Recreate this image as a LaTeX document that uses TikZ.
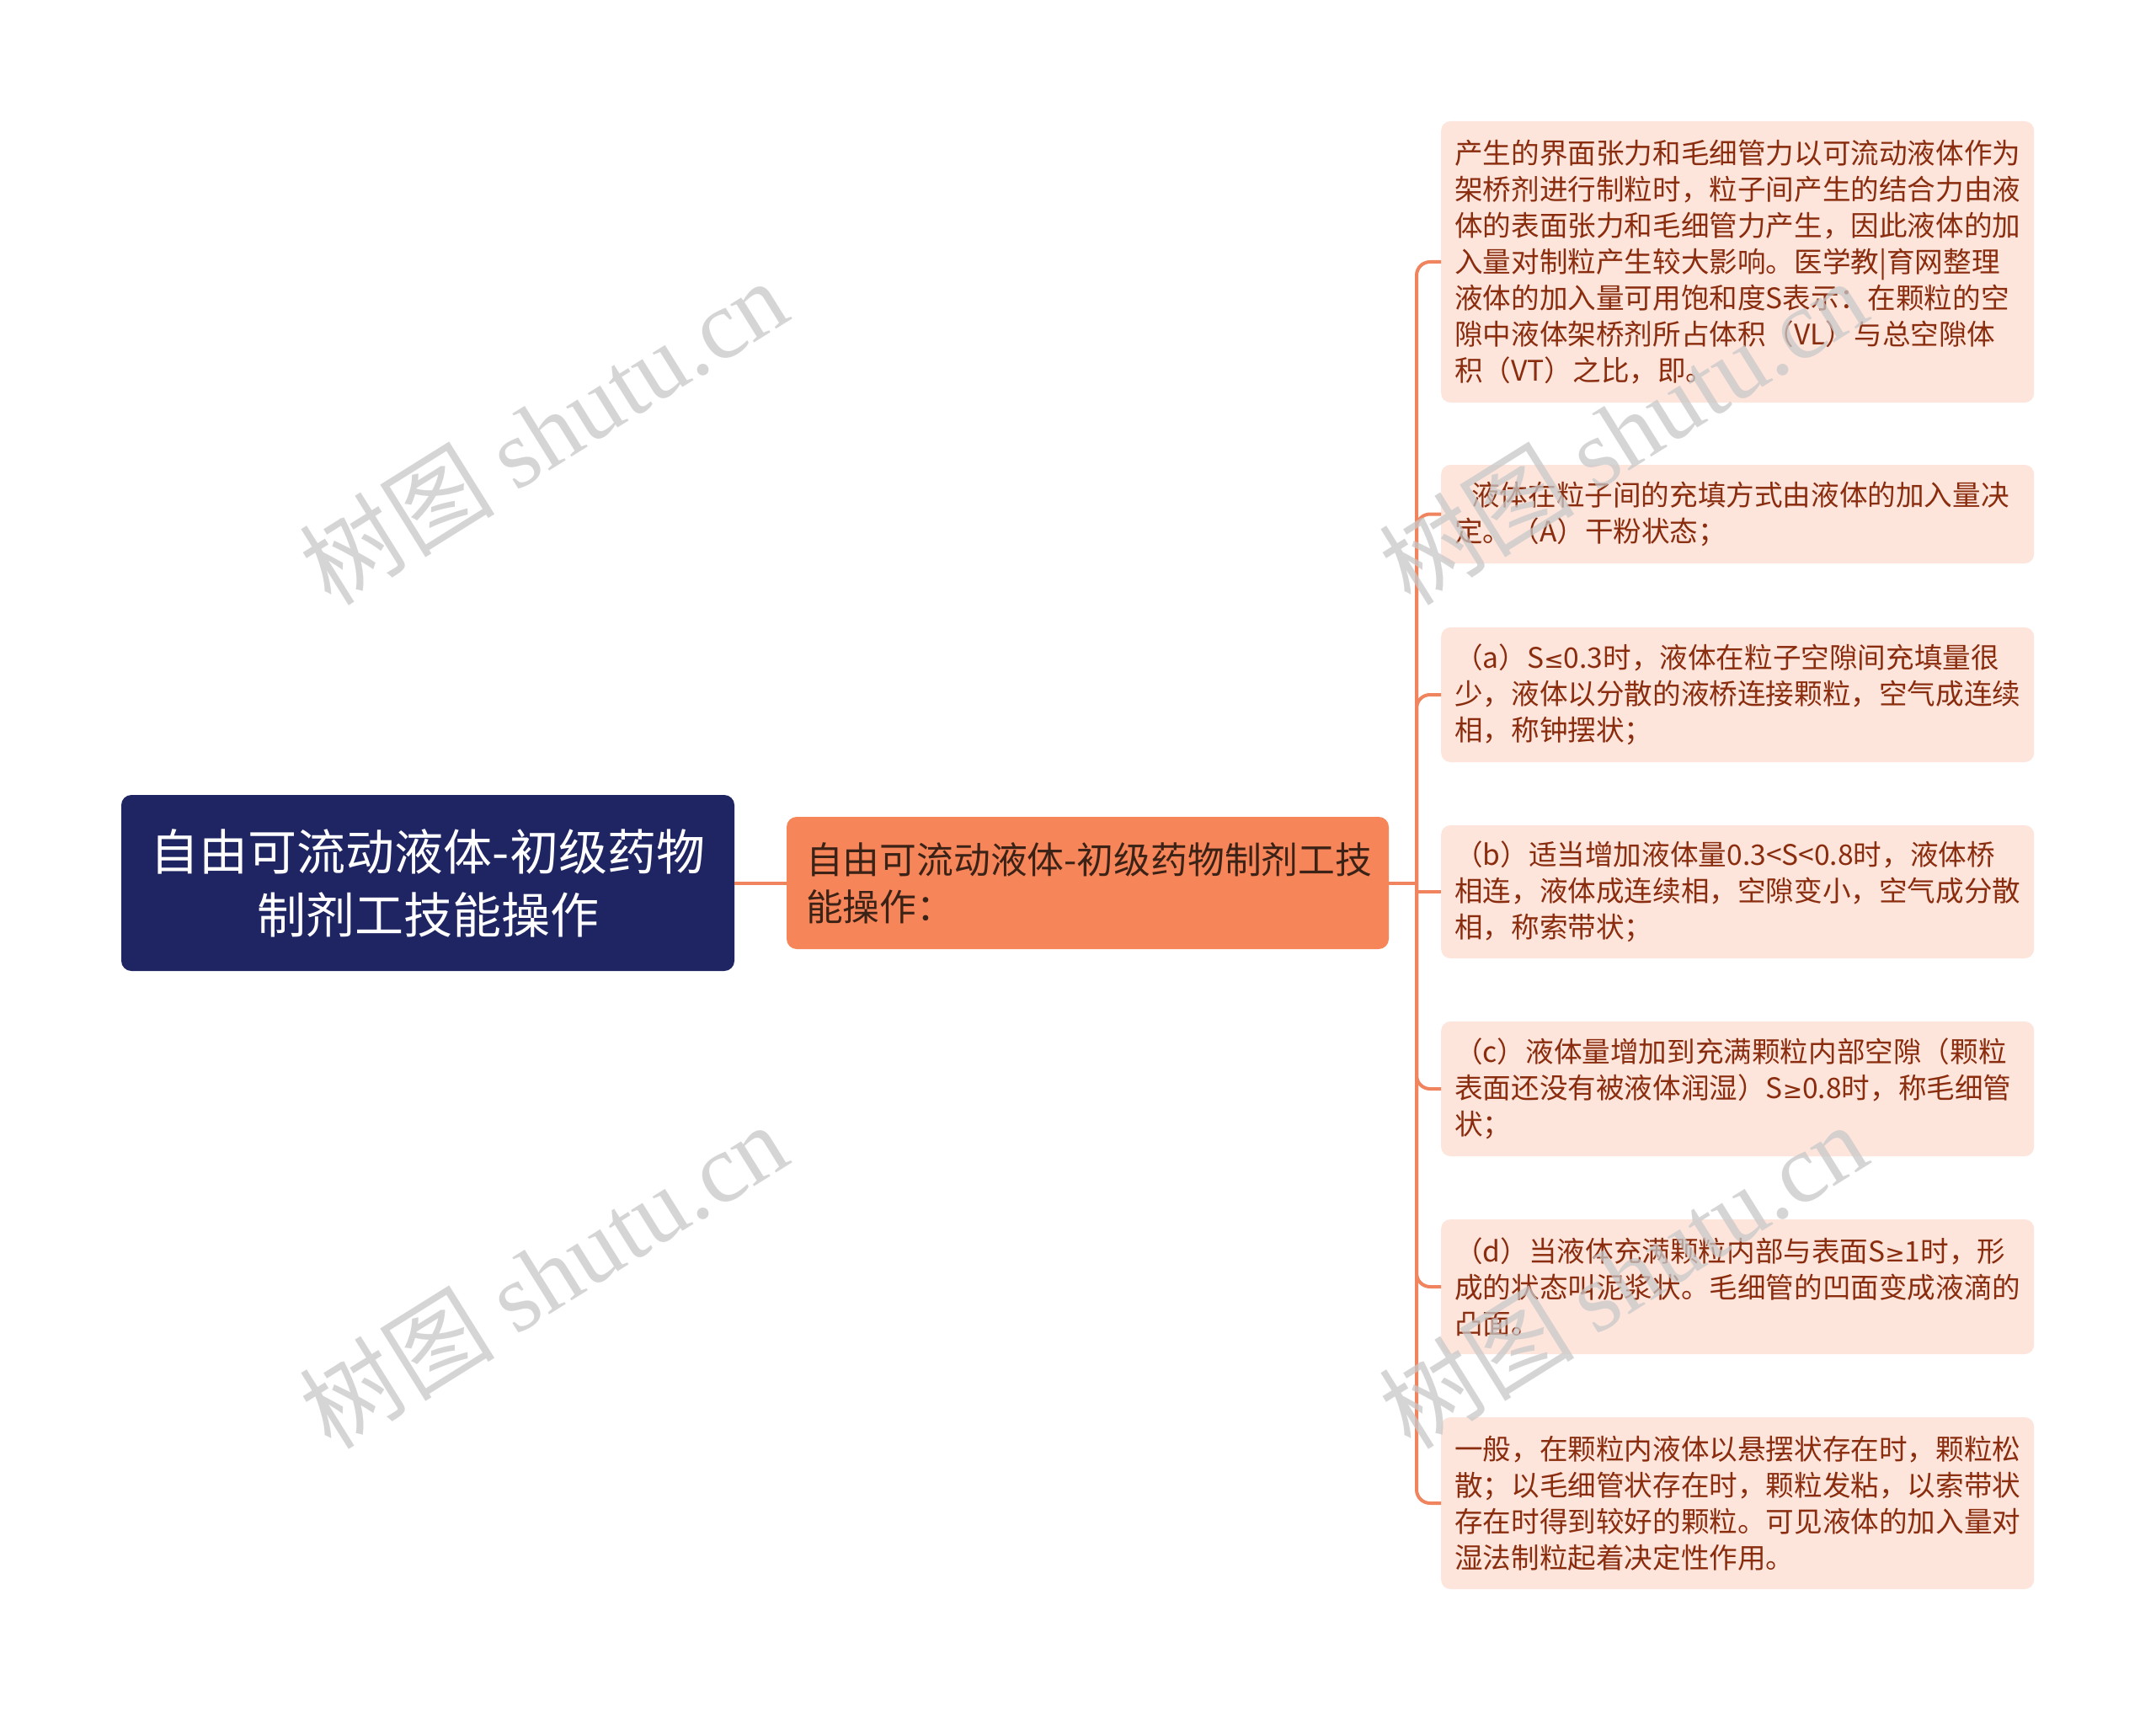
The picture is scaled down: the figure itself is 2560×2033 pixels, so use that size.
\documentclass[tikz,border=0pt]{standalone}
\usepackage{fontspec}
\setmainfont{Noto Sans CJK SC}
\newfontfamily\wmfont{Liberation Serif}
\newfontfamily\symf{DejaVu Sans}
\definecolor{rootfill}{HTML}{1F2462}
\definecolor{midfill}{HTML}{F7855A}
\definecolor{leaffill}{HTML}{FDE5DC}
\definecolor{leaftext}{HTML}{8A2C0E}
\definecolor{midtext}{HTML}{3B2216}
\definecolor{connc}{HTML}{F0845E}
\definecolor{wmc}{HTML}{C8C8C8}
\begin{document}
\begin{tikzpicture}[x=1pt,y=-1pt,
  rootbox/.style={fill=rootfill, rounded corners=12pt, text=white, minimum width=728pt, minimum height=209pt, text width=700pt, align=center, inner sep=0pt, font=\fontsize{58}{75}\selectfont},
  midbox/.style={fill=midfill, rounded corners=12pt, text=midtext, minimum height=157pt, text width=669pt, inner xsep=23pt, inner ysep=0pt, align=left, font=\fontsize{43.8}{56}\selectfont},
  leafbox/.style={fill=leaffill, rounded corners=11pt, text=leaftext, text width=672pt, inner xsep=16pt, inner ysep=0pt, align=left, anchor=west, font=\fontsize{33.6}{43}\selectfont},
  conn/.style={draw=connc, line width=4pt},
  wmark/.style={text=wmc, opacity=0.75, rotate=32, font=\fontsize{116}{116}\selectfont, inner sep=0pt}
]
\useasboundingbox[fill=white] (0,0) rectangle (2560,2033);

\node[rootbox] (root) at (508,1048.5) {\mbox{自由可流动液体-初级药物}\\\mbox{制剂工技能操作}};
\node[midbox] (mid) at (1291.5,1048.5) {\mbox{自由可流动液体-初级药物制剂工技}\\能操作：};
\coordinate (j) at (1682,1048.5);

\node[leafbox, minimum height=334pt] (l1) at (1711,311) {产生的界面张力和毛细管力以可流动液体作为\\架桥剂进行制粒时，粒子间产生的结合力由液\\体的表面张力和毛细管力产生，因此液体的加\\入量对制粒产生较大影响。医学教|育网整理\\液体的加入量可用饱和度S表示：在颗粒的空\\隙中液体架桥剂所占体积（VL）与总空隙体\\积（VT）之比，即。};
\node[leafbox, minimum height=117pt] (l2) at (1711,610.5) {\hspace*{0.6em}液体在粒子间的充填方式由液体的加入量决\\定。（A）干粉状态；};
\node[leafbox, minimum height=160pt] (l3) at (1711,825) {（a）S{\symf\fontsize{28}{43}\selectfont ≤}0.3时，液体在粒子空隙间充填量很\\少，液体以分散的液桥连接颗粒，空气成连续\\相，称钟摆状；};
\node[leafbox, minimum height=158pt] (l4) at (1711,1059) {（b）适当增加液体量0.3<S<0.8时，液体桥\\相连，液体成连续相，空隙变小，空气成分散\\相，称索带状；};
\node[leafbox, minimum height=160pt] (l5) at (1711,1293) {（c）液体量增加到充满颗粒内部空隙（颗粒\\表面还没有被液体润湿）S{\symf\fontsize{28}{43}\selectfont ≥}0.8时，称毛细管\\状；};
\node[leafbox, minimum height=160pt] (l6) at (1711,1528) {（d）当液体充满颗粒内部与表面S{\symf\fontsize{28}{43}\selectfont ≥}1时，形\\成的状态叫泥浆状。毛细管的凹面变成液滴的\\凸面。};
\node[leafbox, minimum height=204pt] (l7) at (1711,1785) {一般，在颗粒内液体以悬摆状存在时，颗粒松\\散；以毛细管状存在时，颗粒发粘，以索带状\\存在时得到较好的颗粒。可见液体的加入量对\\湿法制粒起着决定性作用。};

\draw[conn] (root.east) -- (mid.west);
\draw[conn] (mid.east) -- (j);
\foreach \l in {l1,l2,l3,l5,l6,l7}{
  \draw[conn, rounded corners=16pt] (j) |- (\l.west);
}
\draw[conn] (j) |- (l4.west);

\node[wmark] (w1) at (645,512) {树图 {\wmfont shutu.cn}};
\node[wmark] (w2) at (1927,512) {树图 {\wmfont shutu.cn}};
\node[wmark] (w3) at (645,1514) {树图 {\wmfont shutu.cn}};
\node[wmark] (w4) at (1927,1514) {树图 {\wmfont shutu.cn}};
\end{tikzpicture}
\end{document}
